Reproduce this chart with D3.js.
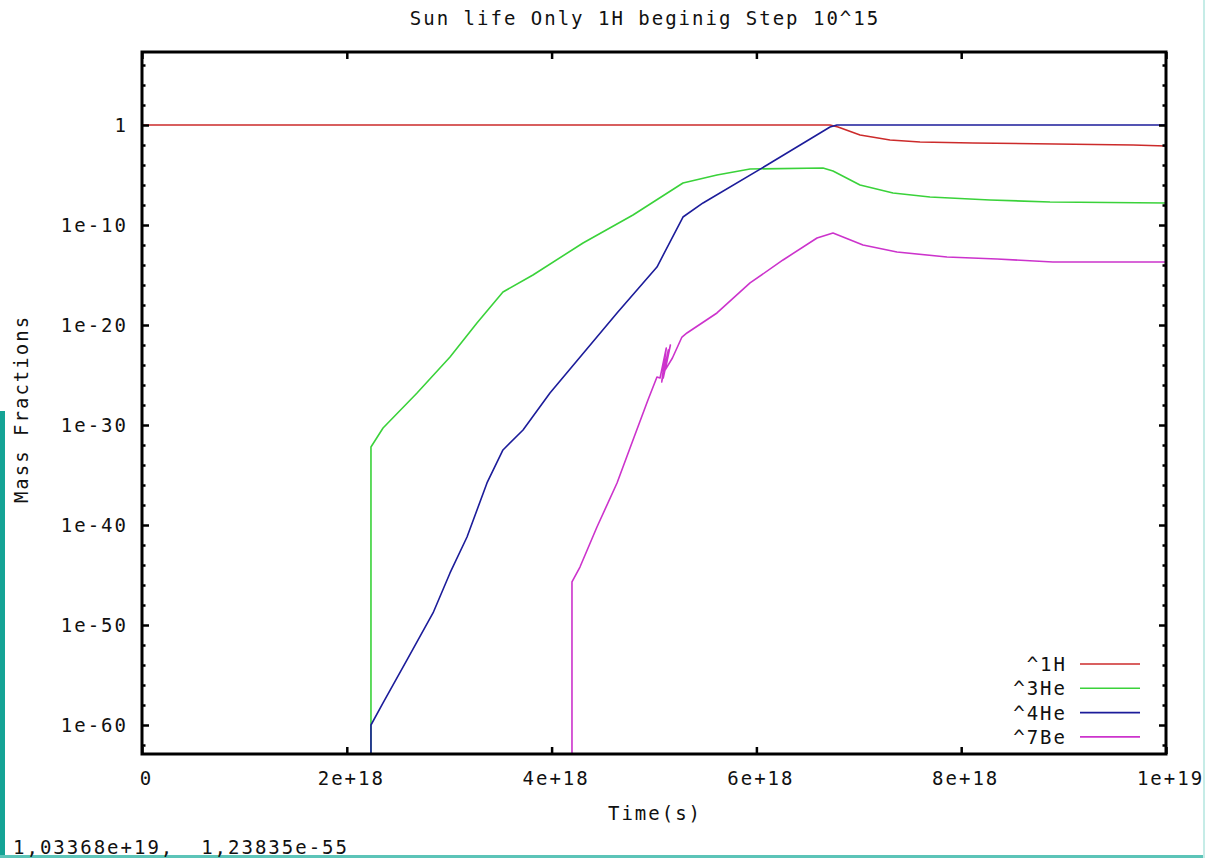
<!DOCTYPE html>
<html>
<head>
<meta charset="utf-8">
<script src="https://cdn.jsdelivr.net/npm/d3@7"></script>
<style>
  html, body { margin: 0; padding: 0; background: #fff; }
  svg { display: block; }
  text { font-family: "DejaVu Sans Mono", monospace; font-size: 19px; letter-spacing: 2px; fill: #111; white-space: pre; }
</style>
</head>
<body>
<svg id="chart" width="1205" height="858"></svg>
<script>
// Time axis (seconds) and mass fractions for each species
const h1Time  = [0, 6.719e18, 6.797e18, 7.012e18, 7.305e18, 7.598e18, 8.115e18, 9.678e18, 1e19];
const h1Mass  = [1, 1, 0.63, 0.1, 0.032, 0.02, 0.016, 0.01, 0.0079];

const he3Time = [2.236e18, 2.236e18, 2.354e18, 2.686e18, 3.008e18, 3.271e18, 3.525e18, 3.818e18, 4.307e18, 4.795e18,
                 5.283e18, 5.615e18, 5.938e18, 6.650e18, 6.748e18, 7.012e18, 7.334e18, 7.695e18, 8.281e18, 8.867e18, 1e19];
const he3Mass = [1e-70, 6.3e-33, 5.0e-31, 1.6e-27, 6.3e-24, 1.6e-20, 2.0e-17, 1.0e-15, 1.6e-12, 1.0e-9,
                 1.6e-6, 1.0e-5, 4.0e-5, 5.0e-5, 2.5e-5, 1.0e-6, 1.6e-7, 6.3e-8, 3.2e-8, 2.0e-8, 1.6e-8];

const he4Time = [2.236e18, 2.236e18, 2.354e18, 2.588e18, 2.842e18, 3.008e18, 3.174e18, 3.369e18, 3.525e18, 3.721e18,
                 3.984e18, 4.639e18, 5.029e18, 5.283e18, 5.479e18, 6.104e18, 6.719e18, 6.787e18, 1e19];
const he4Mass = [1e-70, 1e-60, 1.6e-58, 3.2e-54, 1.6e-49, 1.6e-45, 6.3e-42, 1.6e-36, 3.2e-33, 3.2e-31,
                 1.6e-27, 1.6e-19, 6.3e-15, 6.3e-10, 1.6e-8, 1e-4, 0.63, 1, 1];

const be7Time = [4.199e18, 4.199e18, 4.277e18, 4.443e18, 4.639e18, 4.795e18, 4.941e18, 5.029e18, 5.059e18, 5.120e18,
                 5.075e18, 5.140e18, 5.090e18, 5.160e18, 5.110e18, 5.180e18, 5.273e18, 5.322e18, 5.615e18, 5.938e18,
                 6.260e18, 6.592e18, 6.748e18, 7.041e18, 7.373e18, 7.861e18, 8.350e18, 8.896e18, 1e19];
const be7Mass = [1e-70, 2.0e-46, 6.3e-45, 6.3e-41, 1.6e-36, 3.2e-32, 3.2e-28, 6.3e-26, 5.0e-26, 5.0e-23,
                 2.0e-26, 3.2e-23, 5.0e-26, 1.0e-22, 3.2e-25, 5.0e-24, 6.3e-22, 1.6e-21, 1.6e-19, 1.6e-16,
                 3.2e-14, 5.0e-12, 1.6e-11, 1.0e-12, 2.0e-13, 6.3e-14, 4.0e-14, 2.0e-14, 2.0e-14];

const seriesNames  = ["^1H", "^3He", "^4He", "^7Be"];
const seriesColors = ["#cc2b2b", "#3ad23a", "#1c1c9a", "#cc33cc"];

const xTickValues = [0, 2e18, 4e18, 6e18, 8e18, 1e19];
const xTickLabels = ["0", "2e+18", "4e+18", "6e+18", "8e+18", "1e+19"];
const yTickValues = [1, 1e-10, 1e-20, 1e-30, 1e-40, 1e-50, 1e-60];
const yTickLabels = ["1", "1e-10", "1e-20", "1e-30", "1e-40", "1e-50", "1e-60"];
const yMinorTicks = [1e6, 1e4, 1e2, 1e-2, 1e-4, 1e-6, 1e-8, 1e-12, 1e-14, 1e-16, 1e-18, 1e-22, 1e-24, 1e-26, 1e-28,
                     1e-32, 1e-34, 1e-36, 1e-38, 1e-42, 1e-44, 1e-46, 1e-48, 1e-52, 1e-54, 1e-56, 1e-58, 1e-62];

const titleText  = "Sun life Only 1H beginig Step 10^15";
const xLabelText = "Time(s)";
const yLabelText = "Mass Fractions";
const statusText = "1,03368e+19,  1,23835e-55";

// Layout
const plot = { left: 142, top: 52, right: 1166, bottom: 754 };
const svg = d3.select("#chart");

const x = d3.scaleLinear().domain([0, 1e19]).range([plot.left, plot.right]);
const y = d3.scaleLog().domain([1.26e-63, 2.0e7]).range([plot.bottom, plot.top]);

// Window decoration strips
svg.append("rect").attr("x", 0).attr("y", 411).attr("width", 5).attr("height", 447).attr("fill", "#14a395");
svg.append("rect").attr("x", 0).attr("y", 855).attr("width", 1205).attr("height", 3).attr("fill", "#5cc4b8");
svg.append("rect").attr("x", 1203).attr("y", 0).attr("width", 2).attr("height", 858).attr("fill", "#c6ece7");

svg.append("defs").append("clipPath").attr("id", "plotClip")
  .append("rect")
  .attr("x", plot.left).attr("y", plot.top)
  .attr("width", plot.right - plot.left).attr("height", plot.bottom - plot.top);

// Curves
const series = [
  { t: h1Time,  m: h1Mass },
  { t: he3Time, m: he3Mass },
  { t: he4Time, m: he4Mass },
  { t: be7Time, m: be7Mass }
];
const line = d3.line().x(d => x(d[0])).y(d => y(d[1]));
const curves = svg.append("g").attr("clip-path", "url(#plotClip)");
series.forEach((s, i) => {
  curves.append("path")
    .datum(s.t.map((t, k) => [t, s.m[k]]))
    .attr("fill", "none")
    .attr("stroke", seriesColors[i])
    .attr("stroke-width", 1.6)
    .attr("stroke-linejoin", "round")
    .attr("d", line);
});

// Axes with inward ticks, mirrored on the opposite side
function styleAxis(g) {
  g.select(".domain").remove();
  g.selectAll(".tick line").attr("stroke", "#000").attr("stroke-width", 2.5);
  g.selectAll(".tick text").attr("fill", "#111").style("font-family", null).attr("font-size", null);
}
const fmtY = d => yTickLabels[yTickValues.indexOf(d)];
const fmtX = d => xTickLabels[xTickValues.indexOf(d)];

svg.append("g").attr("transform", `translate(${plot.left},0)`)
  .call(d3.axisLeft(y).tickValues(yTickValues).tickFormat(fmtY).tickSize(-7).tickPadding(14))
  .call(styleAxis);
svg.append("g").attr("transform", `translate(${plot.left},0)`)
  .call(d3.axisLeft(y).tickValues(yMinorTicks).tickFormat("").tickSize(-3.5))
  .call(styleAxis);
svg.append("g").attr("transform", `translate(${plot.right},0)`)
  .call(d3.axisRight(y).tickValues(yTickValues).tickFormat("").tickSize(-7))
  .call(styleAxis);
svg.append("g").attr("transform", `translate(${plot.right},0)`)
  .call(d3.axisRight(y).tickValues(yMinorTicks).tickFormat("").tickSize(-3.5))
  .call(styleAxis);
svg.append("g").attr("transform", `translate(0,${plot.bottom})`)
  .call(d3.axisBottom(x).tickValues(xTickValues).tickFormat(fmtX).tickSize(-7).tickPadding(18))
  .call(styleAxis)
  .selectAll(".tick text").attr("dx", 4);
svg.append("g").attr("transform", `translate(0,${plot.top})`)
  .call(d3.axisTop(x).tickValues(xTickValues).tickFormat("").tickSize(-7))
  .call(styleAxis);

// Frame
svg.append("rect")
  .attr("x", plot.left).attr("y", plot.top)
  .attr("width", plot.right - plot.left).attr("height", plot.bottom - plot.top)
  .attr("fill", "none").attr("stroke", "#000").attr("stroke-width", 3);

// Titles
svg.append("text").attr("x", 645).attr("y", 25).attr("text-anchor", "middle").text(titleText);
svg.append("text").attr("x", 655).attr("y", 820).attr("text-anchor", "middle").text(xLabelText);
svg.append("text").attr("transform", "translate(28,409) rotate(-90)").attr("text-anchor", "middle").text(yLabelText);
svg.append("text").attr("x", 13).attr("y", 854).text(statusText);

// Legend
const legend = svg.append("g");
seriesNames.forEach((name, i) => {
  const cy = 664 + i * 24.3;
  legend.append("text").attr("x", 1067).attr("y", cy + 7).attr("text-anchor", "end").text(name);
  legend.append("line")
    .attr("x1", 1080).attr("x2", 1140).attr("y1", cy).attr("y2", cy)
    .attr("stroke", seriesColors[i]).attr("stroke-width", 1.6);
});
</script>
</body>
</html>
